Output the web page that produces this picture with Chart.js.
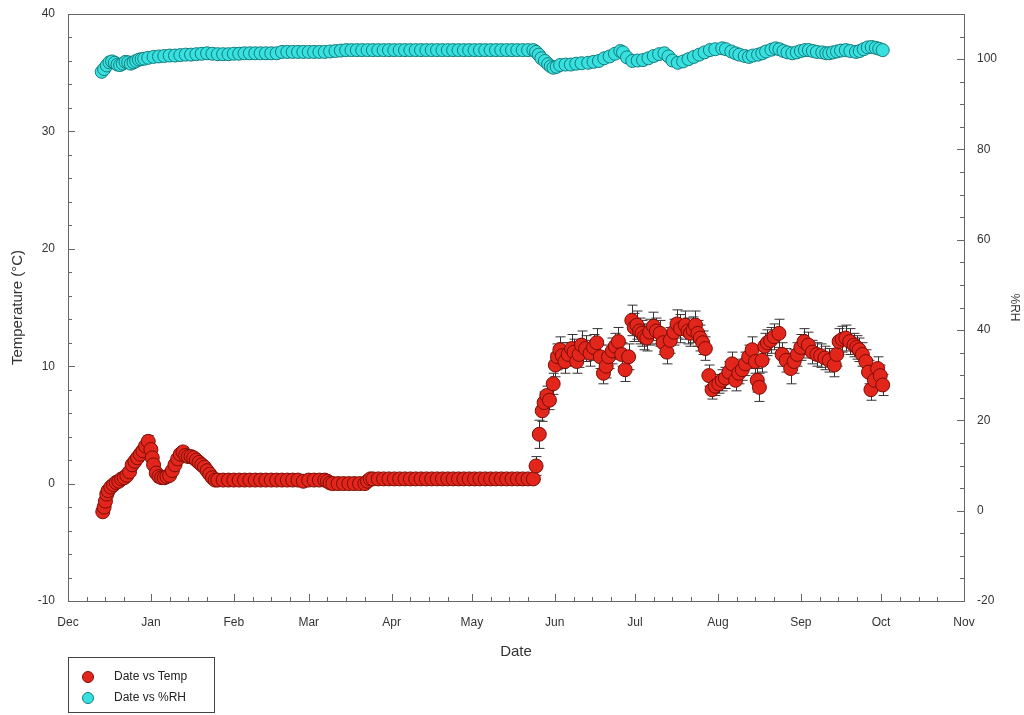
<!DOCTYPE html>
<html>
<head>
<meta charset="utf-8">
<title>Date vs Temp / %RH</title>
<script src="https://cdn.jsdelivr.net/npm/chart.js@4.4.0/dist/chart.umd.min.js"></script>
<style>
  body { margin: 0; background: #fff; }
  #wrap { position: relative; width: 1024px; height: 715px; }
  #legendBox {
    position: absolute; left: 68px; top: 657px; width: 147px; height: 56px;
    border: 1px solid #444; box-sizing: border-box;
    font-family: 'Liberation Sans', Arial, sans-serif; font-size: 12px; color: #222;
  }
  .row { position: absolute; left: 13px; height: 14px; line-height: 14px; }
  .dot { display: inline-block; width: 12px; height: 12px; border-radius: 50%; vertical-align: middle; margin-right: 20px; box-sizing: border-box; }
</style>
</head>
<body>
<div id="wrap">
  <canvas id="tempChart"></canvas>
  <div id="legendBox">
    <div class="row" style="top:11px"><span class="dot" style="background:#e3261b;border:1px solid #7a0d06"></span>Date vs Temp</div>
    <div class="row" style="top:32px"><span class="dot" style="background:#38e0e0;border:1px solid #137c7c"></span>Date vs %RH</div>
  </div>
</div>
<script>
// x값 = 12월 1일부터의 일수
const monthNames = ['Dec', 'Jan', 'Feb', 'Mar', 'Apr', 'May', 'Jun', 'Jul', 'Aug', 'Sep', 'Oct', 'Nov'];
const monthStarts = [0, 31, 62, 90, 121, 151, 182, 212, 243, 274, 304, 335];

// 온도 (°C)
const tempDays = [
  13, 13.5, 14, 14.5, 15, 16, 17, 18, 19, 20, 21, 22, 23, 24, 25, 26, 27, 28, 29, 30,
  31, 31.5, 32, 33, 34, 35, 36, 37, 38, 39, 40, 41, 42, 43, 44, 45, 46, 47, 48, 49,
  50, 51, 52, 53, 54, 55,
  56, 58, 60, 62, 64, 66, 68, 70, 72, 74, 76, 78, 80, 82, 84, 86, 88, 90, 92, 94, 96,
  97, 98, 99, 101, 103, 105, 107, 109, 111, 112, 113,
  114, 116, 118, 120, 122, 124, 126, 128, 130, 132, 134, 136, 138, 140, 142, 144, 146,
  148, 150, 152, 154, 156, 158, 160, 162, 164, 166, 168, 170, 172, 174,
  175, 176.2, 177.3, 178, 179, 180, 181.4, 182.2, 183, 183.9, 184.8, 185.8, 187, 188.3,
  189.2, 190.2, 191.1, 192, 193.5, 195.2, 196.5, 197.7, 199, 200.2, 201.2, 202.1, 203.5,
  204.6, 205.8, 207, 208.3, 209.6, 210.8, 211.7, 212.7, 213.7, 214.6, 215.5, 216.4, 217.5,
  218.9, 220, 221.4, 222.5, 223.9, 225.2, 226.5, 227.7, 229, 230.8, 231.8, 232.7, 233.7,
  234.6, 235.5, 236.4, 237.3, 238.3, 239.6, 240.8, 242, 243.3, 244.6, 245.8, 247.1, 248.3,
  249.6, 250.8, 252.1, 253.3, 254.5, 255.8, 257, 257.7, 258.5, 259.5, 260.5, 261.5, 262.7,
  264, 265.8, 267, 268.5, 270.2, 271.5, 272.7, 274, 275.2, 276.8, 278.3, 280, 281.4, 283,
  284.6, 286.5, 287.4, 288.3, 289.5, 290.8, 292.3, 293.9, 294.9, 295.8, 297, 298.3, 299.3,
  300.2, 301.5, 302.7, 303.7, 304.6
];
const tempVals = [
  -2.4, -2.0, -1.5, -0.9, -0.6, -0.3, -0.1, 0.1, 0.2, 0.4, 0.5, 0.7, 1.0, 1.6, 1.9, 2.2, 2.5, 2.8, 3.2, 3.6,
  2.9, 2.2, 1.6, 0.9, 0.6, 0.5, 0.5, 0.6, 0.7, 1.1, 1.6, 2.1, 2.5, 2.7, 2.4, 2.3, 2.3, 2.2, 2.0, 1.8,
  1.6, 1.4, 1.1, 0.8, 0.5, 0.3,
  0.3, 0.3, 0.3, 0.3, 0.3, 0.3, 0.3, 0.3, 0.3, 0.3, 0.3, 0.3, 0.3, 0.3, 0.3, 0.3, 0.2, 0.3, 0.3, 0.3, 0.3,
  0.2, 0.05, 0.0, 0.0, 0.0, 0.0, 0.0, 0.0, 0.0, 0.2, 0.4,
  0.4, 0.4, 0.4, 0.4, 0.4, 0.4, 0.4, 0.4, 0.4, 0.4, 0.4, 0.4, 0.4, 0.4, 0.4, 0.4, 0.4,
  0.4, 0.4, 0.4, 0.4, 0.4, 0.4, 0.4, 0.4, 0.4, 0.4, 0.4, 0.4, 0.4, 0.4,
  1.5, 4.2, 6.2, 6.9, 7.5, 7.1, 8.5, 10.1, 10.8, 11.4, 10.9, 10.4, 11.0, 11.5,
  11.2, 10.4, 11.0, 11.8, 11.5, 11.1, 11.6, 12.0, 10.8, 9.4, 10.0, 10.8, 11.3,
  11.7, 12.1, 11.0, 9.7, 10.8, 13.9, 13.3, 13.5, 13.0, 12.8, 12.5, 12.4, 12.9,
  13.4, 13.0, 12.8, 12.0, 11.2, 12.2, 12.9, 13.6, 13.2, 13.5, 13.0, 12.8, 13.1,
  13.5, 12.8, 12.4, 12.0, 11.5, 9.2, 8.0, 8.3, 8.5, 8.8, 9.0, 9.5, 10.2,
  8.8, 9.4, 9.7, 10.2, 10.8, 11.4, 10.4, 8.8, 8.2, 10.5, 11.7, 12.0, 12.2,
  12.5, 12.8, 11.0, 10.5, 9.8, 10.4, 11.0, 11.6, 12.1, 11.8, 11.2, 11.0, 10.9, 10.7,
  10.5, 10.1, 11.0, 12.1, 12.3, 12.4, 12.1, 11.8, 11.6, 11.4, 11.0, 10.4, 9.5,
  8.0, 8.8, 9.8, 9.2, 8.4
];
// 온도 오차 (±)
const tempErr = [
  0.2, 0.2, 0.2, 0.2, 0.2, 0.2, 0.2, 0.2, 0.2, 0.2, 0.2, 0.2, 0.2, 0.3, 0.3, 0.3, 0.3, 0.3, 0.4, 0.5,
  0.3, 0.3, 0.2, 0.2, 0.2, 0.2, 0.2, 0.2, 0.2, 0.2, 0.3, 0.3, 0.4, 0.4, 0.3, 0.3, 0.3, 0.3, 0.2, 0.2,
  0.2, 0.2, 0.2, 0.2, 0.1, 0.1,
  0.1, 0.1, 0.1, 0.1, 0.1, 0.1, 0.1, 0.1, 0.1, 0.1, 0.1, 0.1, 0.1, 0.1, 0.1, 0.1, 0.1, 0.1, 0.1, 0.1, 0.1,
  0.1, 0.1, 0.1, 0.1, 0.1, 0.1, 0.1, 0.1, 0.1, 0.1, 0.1,
  0.1, 0.1, 0.1, 0.1, 0.1, 0.1, 0.1, 0.1, 0.1, 0.1, 0.1, 0.1, 0.1, 0.1, 0.1, 0.1, 0.1,
  0.1, 0.1, 0.1, 0.1, 0.1, 0.1, 0.1, 0.1, 0.1, 0.1, 0.1, 0.1, 0.1, 0.1,
  0.8, 1.2, 0.9, 0.9, 0.8, 0.8, 0.9, 1.0, 1.1, 1.1, 1.1, 1.0, 1.0, 1.2,
  1.1, 1.0, 1.1, 1.2, 1.1, 1.1, 1.1, 1.2, 1.0, 0.9, 1.0, 1.0, 1.1,
  1.1, 1.2, 1.0, 1.0, 1.1, 1.3, 1.2, 1.2, 1.1, 1.1, 1.1, 1.1, 1.1,
  1.2, 1.1, 1.1, 1.0, 1.0, 1.1, 1.1, 1.2, 1.2, 1.2, 1.1, 1.1, 1.1,
  1.2, 1.1, 1.1, 1.0, 1.0, 0.9, 0.8, 0.8, 0.8, 0.9, 0.9, 0.9, 1.0,
  0.9, 0.9, 0.9, 1.0, 1.0, 1.1, 1.0, 1.0, 1.2, 1.0, 1.1, 1.1, 1.1,
  1.1, 1.2, 1.0, 1.0, 1.3, 1.0, 1.0, 1.1, 1.1, 1.1, 1.0, 1.0, 1.0, 1.0,
  1.0, 1.0, 1.0, 1.1, 1.1, 1.1, 1.1, 1.0, 1.0, 1.0, 1.0, 1.0, 1.0,
  0.9, 0.9, 1.0, 0.9, 0.9
];

// 상대습도 (%RH)
const rhDays = [
  12.6, 13.5, 14.5, 15.5, 16.5, 17.5, 18.5, 19.5, 20.5, 21.5, 22.5, 23.5, 24.5, 25.5, 26.5,
  27.5, 28.5, 30, 32, 34, 36, 38, 40, 42, 44, 46, 48, 50, 52, 54, 56, 58, 60, 62, 64, 66,
  68, 70, 72, 74, 76, 78, 80, 82, 84, 86, 88, 90, 92, 94, 96, 98, 100, 102, 104,
  106, 108, 110, 112, 114, 116, 118, 120, 122, 124, 126, 128, 130, 132, 134, 136, 138, 140,
  142, 144, 146, 148, 150, 152, 154, 156, 158, 160, 162, 164, 166, 168, 170, 172, 174,
  175, 176, 177, 178.3, 179.5, 180.5, 181.5, 182.7, 184, 186, 188, 190, 192, 194.5, 196.5,
  198.5, 200.5, 202.5, 204.5, 206.5, 207.5, 209, 211, 213, 215, 217, 219, 221, 223, 224.5,
  226, 228, 230, 232, 234, 236, 238, 240, 242, 244.6, 246, 248, 249.6, 251, 253, 254.6,
  256, 258, 259.6, 261, 263, 264.6, 266, 267.5, 269, 270.8, 272.5, 274, 275.5, 277, 278.5,
  280, 282, 283.5, 284.6, 286, 287.5, 289, 290.8, 292.5, 294.6, 296, 297.5, 299, 300.5,
  302, 303.3, 304.6
];
const rhVals = [
  97.2, 97.8, 98.6, 99.3, 99.5, 99.2, 98.8, 98.7, 99.0, 99.4, 99.3, 99.0, 99.3, 99.6, 99.9,
  100.0, 100.1, 100.3, 100.5, 100.6, 100.7, 100.8, 100.8, 100.9, 101.0, 101.0, 101.1, 101.2, 101.3, 101.2, 101.1, 101.1, 101.1, 101.2, 101.2, 101.3,
  101.3, 101.3, 101.3, 101.3, 101.3, 101.3, 101.6, 101.6, 101.6, 101.6, 101.6, 101.6, 101.6, 101.6, 101.6, 101.7, 101.8, 101.9, 102.0,
  102.0, 102.0, 102.0, 102.0, 102.0, 102.0, 102.0, 102.0, 102.0, 102.0, 102.0, 102.0, 102.0, 102.0, 102.0, 102.0, 102.0, 102.0,
  102.0, 102.0, 102.0, 102.0, 102.0, 102.0, 102.0, 102.0, 102.0, 102.0, 102.0, 102.0, 102.0, 102.0, 102.0, 102.0, 102.0,
  101.6, 101.0, 100.2, 99.6, 98.9, 98.4, 98.1, 98.3, 98.7, 98.8, 98.8, 99.0, 99.1, 99.2, 99.4,
  99.6, 100.2, 100.6, 101.2, 101.8, 101.5, 100.4, 99.6, 99.7, 99.8, 100.2, 100.7, 101.1, 101.3, 100.6,
  99.7, 99.2, 99.5, 100.0, 100.5, 101.0, 101.5, 102.0, 102.2, 102.4, 102.2, 101.7, 101.3, 101.0, 100.7, 100.5,
  100.8, 101.0, 101.3, 101.7, 102.1, 102.4, 102.2, 101.8, 101.5, 101.3, 101.5, 101.8, 102.0, 102.0, 101.8,
  101.6, 101.5, 101.3, 101.3, 101.5, 101.7, 101.9, 102.0, 101.8, 101.6, 101.8, 102.2, 102.6, 102.7,
  102.5, 102.3, 102.0
];

(() => {
  'use strict'

  function toPoints(xs, ys) {
    return xs.map((x, i) => ({ x: x, y: ys[i] }));
  }

  // 오차 막대 (점 뒤에 그림)
  const errorBars = {
    id: 'errorBars',
    beforeDatasetsDraw(chart) {
      const ctx = chart.ctx;
      const xs = chart.scales.x;
      const ys = chart.scales.y;
      const area = chart.chartArea;
      ctx.save();
      ctx.beginPath();
      ctx.rect(area.left, area.top, area.right - area.left, area.bottom - area.top);
      ctx.clip();
      ctx.strokeStyle = '#333';
      ctx.lineWidth = 1;
      tempDays.forEach((d, i) => {
        const px = Math.round(xs.getPixelForValue(d)) + 0.5;
        const top = ys.getPixelForValue(tempVals[i] + tempErr[i]);
        const bot = ys.getPixelForValue(tempVals[i] - tempErr[i]);
        ctx.beginPath();
        ctx.moveTo(px, top); ctx.lineTo(px, bot);
        ctx.moveTo(px - 5, top); ctx.lineTo(px + 5, top);
        ctx.moveTo(px - 5, bot); ctx.lineTo(px + 5, bot);
        ctx.stroke();
      });
      ctx.restore();
    }
  };

  // 안쪽 눈금 + 위쪽 테두리
  const frameTicks = {
    id: 'frameTicks',
    afterDraw(chart) {
      const ctx = chart.ctx;
      const a = chart.chartArea;
      const xs = chart.scales.x, yl = chart.scales.y, yr = chart.scales.y1;
      ctx.save();
      ctx.strokeStyle = '#666';
      ctx.lineWidth = 1;
      ctx.beginPath();
      ctx.moveTo(a.left, a.top + 0.5); ctx.lineTo(a.right, a.top + 0.5);
      ctx.stroke();
      ctx.beginPath();
      for (let v = -10; v <= 40; v += 2) {
        const py = Math.round(yl.getPixelForValue(v)) + 0.5;
        const len = v % 10 === 0 ? 7 : 4;
        ctx.moveTo(a.left, py); ctx.lineTo(a.left + len, py);
      }
      for (let v = -20; v <= 110; v += 5) {
        const py = Math.round(yr.getPixelForValue(v)) + 0.5;
        const len = v % 20 === 0 ? 7 : 4;
        ctx.moveTo(a.right, py); ctx.lineTo(a.right - len, py);
      }
      monthStarts.forEach((m, i) => {
        const px = Math.round(xs.getPixelForValue(m)) + 0.5;
        ctx.moveTo(px, a.bottom); ctx.lineTo(px, a.bottom - 7);
        if (i < monthStarts.length - 1) {
          [7, 14, 21].forEach(off => {
            const qx = Math.round(xs.getPixelForValue(m + off)) + 0.5;
            ctx.moveTo(qx, a.bottom); ctx.lineTo(qx, a.bottom - 4);
          });
        }
      });
      ctx.stroke();
      ctx.restore();
    }
  };

  const font = { family: "'Liberation Sans', Arial, sans-serif", size: 12 };
  const titleFont = { family: "'Liberation Sans', Arial, sans-serif", size: 15 };
  // 라벨 간격은 투명 tick 길이로 (ticks.padding 은 위쪽 여백을 늘림)
  const hiddenTickGrid = { display: true, drawOnChartArea: false, drawTicks: true, tickLength: 10, color: 'rgba(0,0,0,0)' };

  new Chart(document.getElementById('tempChart'), {
    type: 'scatter',
    data: {
      datasets: [{
        label: 'Date vs Temp',
        data: toPoints(tempDays, tempVals),
        yAxisID: 'y',
        pointRadius: 7,
        pointBorderWidth: 1,
        backgroundColor: '#e3261b',
        borderColor: '#7a0d06'
      }, {
        label: 'Date vs %RH',
        data: toPoints(rhDays, rhVals),
        yAxisID: 'y1',
        pointRadius: 6.5,
        pointBorderWidth: 1,
        backgroundColor: '#38e0e0',
        borderColor: '#137c7c'
      }]
    },
    options: {
      responsive: true,
      maintainAspectRatio: false,
      animation: false,
      layout: { padding: { top: 14, left: 0, right: 0, bottom: 0 } },
      plugins: {
        legend: { display: false },
        tooltip: { enabled: false }
      },
      scales: {
        x: {
          type: 'linear',
          min: 0,
          max: 335,
          afterBuildTicks: (s) => { s.ticks = monthStarts.map(v => ({ value: v })); },
          afterFit: (s) => { s.height = 114; },
          grid: { display: false, drawTicks: false },
          border: { display: true, color: '#666' },
          ticks: {
            padding: 14,
            color: '#333',
            font: font,
            maxRotation: 0,
            autoSkip: false,
            callback: (v) => monthNames[monthStarts.indexOf(v)]
          },
          title: { display: true, text: 'Date', color: '#333', font: titleFont, padding: { top: 0, bottom: 54 } }
        },
        y: {
          position: 'left',
          min: -10,
          max: 40,
          afterFit: (s) => { s.width = 68; },
          grid: hiddenTickGrid,
          border: { display: true, color: '#666' },
          ticks: { stepSize: 10, padding: 3, color: '#333', font: font },
          title: { display: true, text: 'Temperature (°C)', color: '#333', font: titleFont, padding: { top: 9, bottom: 0 } }
        },
        y1: {
          position: 'right',
          min: -20,
          max: 110,
          afterBuildTicks: (s) => { s.ticks = [-20, 0, 20, 40, 60, 80, 100].map(v => ({ value: v })); },
          afterFit: (s) => { s.width = 60; },
          grid: hiddenTickGrid,
          border: { display: true, color: '#666' },
          ticks: { padding: 3, color: '#333', font: font },
          title: { display: true, text: '%RH', color: '#333', font: font, padding: { top: 2, bottom: 0 } }
        }
      }
    },
    plugins: [errorBars, frameTicks]
  });
})();
</script>
</body>
</html>
